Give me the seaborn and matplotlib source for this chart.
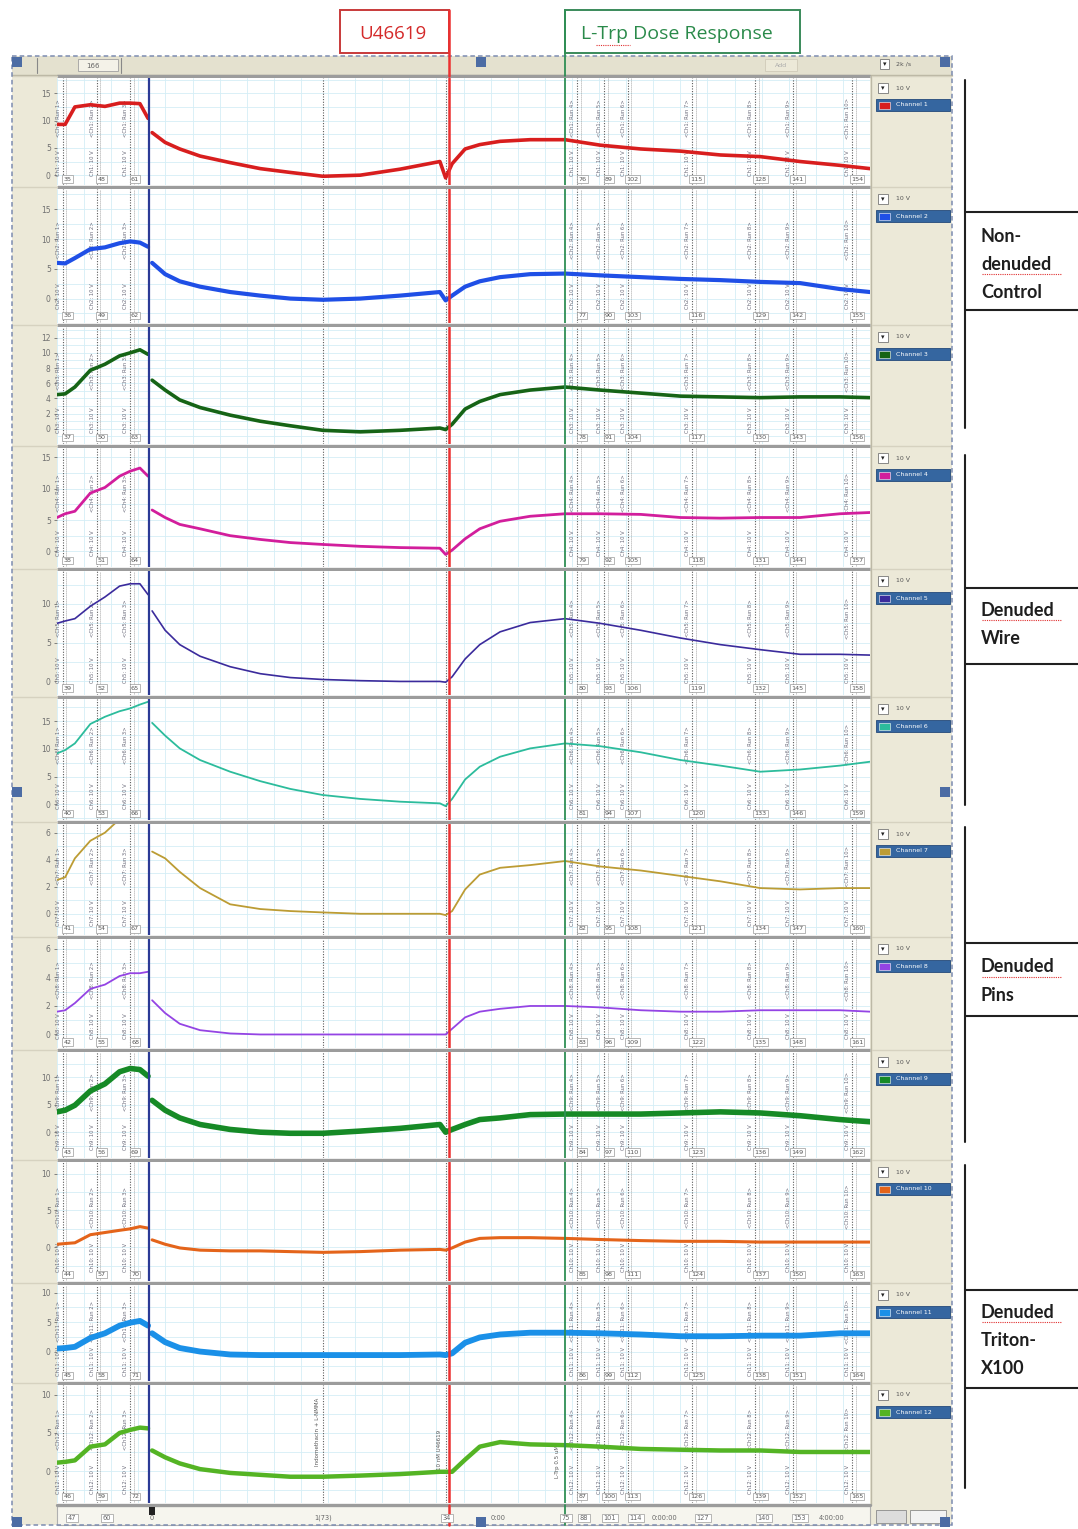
import numpy as np
import pandas as pd
import matplotlib
matplotlib.use("Agg")
import matplotlib.pyplot as plt
import seaborn as sns
from matplotlib.patches import Rectangle
from matplotlib.ticker import MultipleLocator
import matplotlib.transforms as mtrans

sns.set_theme(style="white")
plt.rcParams['font.family'] = ['DejaVu Sans']

# ---------------- data ----------------
CHANNELS = [f"Channel {i}" for i in range(1, 13)]
TIME_LEFT = [0.0, 1.0, 2.2, 4.1, 5.9, 7.7, 9.0, 10.2, 11.2]
TIME_RIGHT = [11.7, 13.3, 15.1, 17.6, 21.3, 25.0, 28.7, 32.7, 37.3, 42.2, 47.1, 47.8,
              48.6, 50.2, 52.0, 54.5, 58.2, 62.5, 66.8, 71.8, 76.7, 81.6, 86.5, 91.4,
              96.3, 100.0]

ch1_left = [9.3, 9.3, 12.5, 12.9, 12.6, 13.2, 13.2, 13.1, 10.4]
ch2_left = [6.0, 5.9, 6.8, 8.3, 8.6, 9.3, 9.6, 9.4, 8.7]
ch3_left = [4.5, 4.6, 5.5, 7.7, 8.5, 9.6, 10.0, 10.4, 9.8]
ch4_left = [5.4, 6.0, 6.4, 9.3, 10.2, 12.0, 12.8, 13.3, 12.0]
ch5_left = [7.5, 7.8, 8.1, 9.7, 10.9, 12.3, 12.6, 12.6, 11.2]
ch6_left = [9.2, 9.8, 11.0, 14.5, 15.8, 16.8, 17.3, 18.0, 18.5]
ch7_left = [2.5, 2.7, 4.1, 5.4, 6.0, 7.0, 7.3, 7.5, 7.3]
ch8_left = [1.6, 1.7, 2.2, 3.2, 3.5, 4.1, 4.3, 4.3, 4.4]
ch9_left = [3.7, 4.0, 4.9, 7.5, 8.8, 11.0, 11.6, 11.4, 10.2]
ch10_left = [0.4, 0.5, 0.6, 1.7, 2.0, 2.3, 2.5, 2.8, 2.6]
ch11_left = [0.5, 0.6, 0.8, 2.3, 3.1, 4.4, 4.9, 5.2, 4.4]
ch12_left = [1.1, 1.2, 1.4, 3.2, 3.5, 5.0, 5.4, 5.7, 5.6]

ch1_right = [7.8, 6.0, 4.8, 3.5, 2.3, 1.2, 0.5, -0.2, 0.0, 1.1, 2.5, -0.5, 2.1, 4.8, 5.6,
             6.2, 6.5, 6.5, 5.5, 4.8, 4.4, 3.7, 3.4, 2.5, 1.8, 1.2]
ch2_right = [6.0, 4.1, 2.9, 2.0, 1.1, 0.5, 0.0, -0.2, 0.0, 0.5, 1.1, -0.3, 0.5, 2.0, 2.9,
             3.6, 4.1, 4.2, 3.9, 3.6, 3.3, 3.1, 2.8, 2.6, 1.6, 1.1]
ch3_right = [6.4, 5.1, 3.8, 2.8, 1.8, 1.0, 0.4, -0.2, -0.4, -0.2, 0.1, -0.1, 0.6, 2.6, 3.6,
             4.5, 5.1, 5.5, 5.1, 4.7, 4.3, 4.2, 4.1, 4.2, 4.2, 4.1]
ch4_right = [6.6, 5.4, 4.3, 3.6, 2.5, 1.9, 1.4, 1.1, 0.8, 0.6, 0.5, -0.5, 0.2, 2.0, 3.6,
             4.8, 5.6, 6.0, 6.0, 5.9, 5.4, 5.3, 5.4, 5.4, 6.0, 6.2]
ch5_right = [9.1, 6.6, 4.75, 3.25, 1.9, 1.0, 0.5, 0.25, 0.1, 0.0, 0.0, -0.1, 0.6, 2.9, 4.75,
             6.4, 7.6, 8.1, 7.5, 6.6, 5.6, 4.75, 4.1, 3.5, 3.5, 3.4]
ch6_right = [14.7, 12.4, 10.1, 8.0, 5.9, 4.2, 2.8, 1.7, 1.0, 0.5, 0.2, -0.3, 1.0, 4.5, 6.8,
             8.6, 10.1, 11.0, 10.5, 9.4, 8.0, 7.0, 5.9, 6.3, 7.0, 7.7]
ch7_right = [4.6, 4.1, 3.1, 1.9, 0.7, 0.35, 0.2, 0.1, 0.0, 0.0, 0.0, -0.1, 0.2, 1.8, 2.9,
             3.4, 3.6, 3.9, 3.5, 3.2, 2.8, 2.4, 1.9, 1.8, 1.9, 1.9]
ch8_right = [2.4, 1.5, 0.75, 0.3, 0.07, 0.0, 0.0, 0.0, 0.0, 0.0, 0.0, 0.0, 0.4, 1.2, 1.6,
             1.8, 2.0, 2.0, 1.9, 1.7, 1.6, 1.6, 1.7, 1.7, 1.7, 1.6]
ch9_right = [5.8, 4.0, 2.6, 1.4, 0.5, 0.0, -0.2, -0.2, 0.2, 0.7, 1.4, 0.0, 0.5, 1.4, 2.3,
             2.6, 3.2, 3.3, 3.3, 3.3, 3.5, 3.7, 3.5, 3.0, 2.3, 1.9]
ch10_right = [1.0, 0.4, -0.1, -0.4, -0.5, -0.5, -0.6, -0.7, -0.6, -0.4, -0.3, -0.4, -0.1,
              0.7, 1.2, 1.3, 1.3, 1.2, 1.05, 0.9, 0.8, 0.8, 0.7, 0.7, 0.7, 0.7]
ch11_right = [3.1, 1.6, 0.6, 0.0, -0.5, -0.6, -0.6, -0.6, -0.6, -0.6, -0.5, -0.6, -0.3,
              1.5, 2.4, 2.9, 3.2, 3.2, 3.1, 2.9, 2.6, 2.6, 2.7, 2.7, 3.1, 3.1]
ch12_right = [2.7, 1.8, 1.0, 0.25, -0.25, -0.5, -0.75, -0.75, -0.6, -0.4, -0.1, -0.1, -0.1,
              1.5, 3.2, 3.8, 3.5, 3.4, 3.2, 2.9, 2.8, 2.7, 2.7, 2.5, 2.5, 2.5]

LEFT_VALUES = [ch1_left, ch2_left, ch3_left, ch4_left, ch5_left, ch6_left,
               ch7_left, ch8_left, ch9_left, ch10_left, ch11_left, ch12_left]
RIGHT_VALUES = [ch1_right, ch2_right, ch3_right, ch4_right, ch5_right, ch6_right,
                ch7_right, ch8_right, ch9_right, ch10_right, ch11_right, ch12_right]

Y_TICKS = [[0, 5, 10, 15], [0, 5, 10, 15], [0, 2, 4, 6, 8, 10, 12], [0, 5, 10, 15],
           [0, 5, 10], [0, 5, 10, 15], [0, 2, 4, 6], [0, 2, 4, 6],
           [0, 5, 10], [0, 5, 10], [0, 5, 10], [0, 5, 10]]

# event markers (time units)
MARK_LEFT = [0.7, 4.9, 9.0]
MARK_MID = [32.7, 47.8]
MARK_RIGHT = [64.0, 67.3, 70.2, 78.1, 85.9, 90.5, 97.8]
BLUE_X = 11.3
U46619_X = 48.2
LTRP_X = 62.5

GROUP_LABELS = [['Non-', 'denuded', 'Control'], ['Denuded', 'Wire'],
                ['Denuded', 'Pins'], ['Denuded', 'Triton-', 'X100']]

# ---------------- style / layout ----------------
COLORS = ['#d81e1e', '#1f4fe6', '#166416', '#d21e9c', '#3b2b9c', '#2cbc9c',
          '#bc9c34', '#9444e4', '#168a26', '#e4641a', '#1a90e8', '#54b424']
LWS = [2.6, 3.0, 2.6, 2.0, 1.2, 1.3, 1.3, 1.3, 4.0, 2.2, 4.2, 3.2]
Y_LIMS = [(-1.8, 17.8), (-4.1, 18.4), (-2.0, 13.4), (-2.5, 16.5), (-1.75, 14.25),
          (-2.8, 19.0), (-1.57, 6.64), (-0.95, 6.7), (-4.7, 14.6), (-4.6, 11.6),
          (-5.0, 11.3), (-4.2, 11.3)]
BOUNDS = [76, 187, 325, 446, 569, 697, 822, 937, 1050, 1160, 1283, 1383, 1505]

W, H = 1078, 1529
PL, PR = 57, 870
XMIN, XMAX = 0, 100
BEIGE = '#ece9d8'


def frac(x0, y0, w, h):
    return [x0 / W, 1 - (y0 + h) / H, w / W, h / H]


def xpx(t):
    return PL + (t - XMIN) / (XMAX - XMIN) * (PR - PL)


fig = plt.figure(figsize=(W / 100, H / 100), dpi=100)
fig.patch.set_facecolor('white')

bg = fig.add_axes([0, 0, 1, 1], zorder=0)
bg.set_xlim(0, W)
bg.set_ylim(H, 0)
bg.axis('off')

bg.add_patch(Rectangle((12, 56), 940, 1469, fc=BEIGE, ec='none'))
bg.add_patch(Rectangle((PL, 76), PR - PL, 1429, fc='white', ec='none'))
bg.add_patch(Rectangle((PL, 1505), PR - PL, 20, fc='#f6f5ee', ec='#b0b0b0', lw=0.8))
bg.add_patch(Rectangle((12, 56), 940, 19, fc='#e4e1cf', ec='none'))
bg.plot([12, 952], [75, 75], color='#b8b4a0', lw=1)
bg.add_patch(Rectangle((78, 59), 40, 12, fc='#f4f2e8', ec='#a0a0a0', lw=0.6))
bg.text(93, 65.5, '166', fontsize=5, color='#666', ha='center', va='center')
bg.plot([37, 37], [58, 73], color='#888', lw=0.8)
bg.plot([121, 121], [58, 73], color='#888', lw=0.8)
bg.add_patch(Rectangle((765, 59), 32, 12, fc='#ece9d8', ec='#cfcab8', lw=0.6))
bg.text(781, 65.5, 'Add', fontsize=4.5, color='#aaa', ha='center', va='center')
bg.add_patch(Rectangle((880, 59), 9, 10, fc='white', ec='#777', lw=0.6))
bg.text(884.5, 64, '▾', fontsize=5, color='#222', ha='center', va='center')
bg.text(896, 64, '2k /s', fontsize=4.5, color='#555', va='center')
bg.plot([871, 871], [76, 1505], color='#bdb9a6', lw=1)

for i in range(12):
    top, bot = BOUNDS[i], BOUNDS[i + 1]
    bg.plot([PL, PR], [top, top], color='#9c9c9c', lw=2.4, solid_capstyle='butt')
    bg.plot([12, PL], [top, top], color='#d6d2c0', lw=1)
    bg.plot([872, 952], [top, top], color='#d6d2c0', lw=1)
    bg.add_patch(Rectangle((878, top + 7), 10, 10, fc='white', ec='#777', lw=0.6))
    bg.text(883, top + 12, '▾', fontsize=5, color='#222', ha='center', va='center')
    bg.text(896, top + 12, '10 V', fontsize=4.5, color='#555', va='center')
    bg.add_patch(Rectangle((876, top + 23), 74, 12, fc='#3566a0', ec='#24497a', lw=0.6))
    bg.add_patch(Rectangle((879, top + 25.5), 11, 7, fc=COLORS[i], ec='white', lw=0.4))
    bg.text(896, top + 29, CHANNELS[i], fontsize=4.5, color='white', va='center')
bg.plot([PL, PR], [1505, 1505], color='#9c9c9c', lw=2.4)

# ---------------- panels ----------------
axes = []
for i in range(12):
    top, bot = BOUNDS[i], BOUNDS[i + 1]
    ax = fig.add_axes(frac(PL, top + 2, PR - PL, bot - top - 4), zorder=1)
    ax.set_facecolor('white')
    step = Y_TICKS[i][1] - Y_TICKS[i][0]
    ax.xaxis.set_minor_locator(MultipleLocator(100 / 30))
    ax.yaxis.set_minor_locator(MultipleLocator(step / 2))
    ax.grid(True, which='both', color='#d4eef6', lw=0.6)
    ax.tick_params(which='minor', length=0)
    ax.set_axisbelow(True)

    df_l = pd.DataFrame({'time': TIME_LEFT, 'value': LEFT_VALUES[i]})
    df_r = pd.DataFrame({'time': TIME_RIGHT, 'value': RIGHT_VALUES[i]})
    for df in (df_l, df_r):
        sns.lineplot(data=df, x='time', y='value', ax=ax, color=COLORS[i], lw=LWS[i],
                     estimator=None, sort=False, zorder=4,
                     solid_joinstyle='round', solid_capstyle='round')

    ax.set_xlim(XMIN, XMAX)
    ax.set_ylim(*Y_LIMS[i])
    ax.set_xlabel('')
    ax.set_ylabel('')
    ax.set_xticks([])
    ax.set_yticks(Y_TICKS[i])
    ax.set_yticklabels([str(v) for v in Y_TICKS[i]])
    ax.tick_params(axis='y', which='major', labelsize=5.5, colors='#707070',
                   length=2.5, width=0.6, pad=2, left=True)
    for s in ax.spines.values():
        s.set_visible(False)

    k = i + 1
    tr = mtrans.blended_transform_factory(ax.transData, ax.transAxes)
    for mx in MARK_LEFT + MARK_MID + MARK_RIGHT:
        ax.axvline(mx, color='#5a5a5a', lw=0.8, ls=(0, (1, 1.4)), zorder=2)
    for j, mx in enumerate(MARK_LEFT + MARK_RIGHT):
        ax.axvline(mx + 0.45, color='#8a8a8a', lw=0.6, ls=(0, (1, 1.4)), zorder=2)
        ax.text(mx - 0.55, 0.62, f'<Ch{k}: Run {j + 1}>', rotation=90, fontsize=3.8,
                color='#6a6a7a', ha='center', va='center', transform=tr, zorder=3)
        ax.text(mx - 0.55, 0.2, f'Ch{k}: 10 V', rotation=90, fontsize=3.8,
                color='#6a6a7a', ha='center', va='center', transform=tr, zorder=3)
    nums = [34 + k, 47 + k, 60 + k] + [75 + k + 13 * n for n in range(7)]
    for mx, n in zip(MARK_LEFT + MARK_RIGHT, nums):
        ax.text(mx + 0.6, 0.055, str(n), fontsize=4.6, color='#555', ha='center',
                va='center', transform=tr, zorder=5,
                bbox=dict(boxstyle='square,pad=0.2', fc='white', ec='#9a9a9a', lw=0.5))

    ax.axvline(BLUE_X, color='#2b3a96', lw=1.6, zorder=5)
    ax.axvline(U46619_X, color='#ec3030', lw=1.8, zorder=6)
    ax.axvline(LTRP_X, color='#2f8f55', lw=1.3, zorder=6)
    axes.append(ax)

tr12 = mtrans.blended_transform_factory(axes[-1].transData, axes[-1].transAxes)
axes[-1].text(MARK_MID[0] - 0.6, 0.6, 'Indomethacin + L-NMMA', rotation=90, fontsize=4,
              color='#555', ha='center', va='center', transform=tr12)
axes[-1].text(MARK_MID[1] - 0.8, 0.45, '10 nM U46619', rotation=90, fontsize=4,
              color='#555', ha='center', va='center', transform=tr12)
axes[-1].text(LTRP_X - 0.9, 0.35, 'L-Trp 0.5 uM', rotation=90, fontsize=4,
              color='#555', ha='center', va='center', transform=tr12)

# ---------------- foreground overlay ----------------
fg = fig.add_axes([0, 0, 1, 1], zorder=3)
fg.set_xlim(0, W)
fg.set_ylim(H, 0)
fg.axis('off')
fg.patch.set_alpha(0)

xr, xg = xpx(U46619_X), xpx(LTRP_X)
fg.plot([xr, xr], [10, 76], color='#ec3030', lw=1.8)
fg.plot([xr, xr], [1505, 1525], color='#ec3030', lw=1.8)
fg.plot([xg, xg], [10, 76], color='#2f8f55', lw=1.3)
fg.plot([xg, xg], [1505, 1525], color='#2f8f55', lw=1.3)

fg.add_patch(Rectangle((340, 10), xr - 340, 43, fc='white', ec='#c83a3a', lw=1.4))
fg.text((340 + xr) / 2 - 2, 34, 'U46619', fontsize=13.5, color='#d42a2a', ha='center',
        va='center', family=['Open Sans', 'DejaVu Sans'])
fg.add_patch(Rectangle((xg, 10), 800 - xg, 43, fc='white', ec='#3a8a5a', lw=1.4))
fg.text(xg + 16, 34, 'L-Trp Dose Response', fontsize=14, color='#2a8a4a', ha='left',
        va='center', family=['Open Sans', 'DejaVu Sans'])
fg.plot([596, 630], [45, 45], color='#e03030', lw=0.8, ls=(0, (1, 1)))

bottom_labels = [(72, '47', True), (107, '60', True), (152, '0', False),
                 (323, '1(73)', False), (447, '34', True), (498, '0:00', False),
                 (566, '75', True), (584, '88', True), (610, '101', True),
                 (636, '114', True), (664, '0:00:00', False), (703, '127', True),
                 (764, '140', True), (800, '153', True), (832, '4:00:00', False)]
for x, s, boxed in bottom_labels:
    kw = dict(bbox=dict(boxstyle='square,pad=0.2', fc='white', ec='#9a9a9a', lw=0.5)) if boxed else {}
    fg.text(x, 1518, s, fontsize=4.8, color='#666', ha='center', va='center', **kw)
fg.add_patch(Rectangle((149, 1507), 6, 8, fc='#222', ec='none'))
fg.add_patch(Rectangle((876, 1510), 30, 13, fc='#dcdcdc', ec='#8a8a8a', lw=0.6))
fg.add_patch(Rectangle((910, 1510), 36, 13, fc='#f2f2f2', ec='#8a8a8a', lw=0.6))

fg.add_patch(Rectangle((12, 56), 940, 1469, fc='none', ec='#7c8cb0', lw=1.1, ls=(0, (3, 2))))
for hx, hy in [(17, 62), (481, 62), (945, 62), (17, 792), (945, 792),
               (17, 1522), (481, 1522), (945, 1522)]:
    fg.add_patch(Rectangle((hx - 5, hy - 5), 10, 10, fc='#4c6ca4', ec='none'))

groups = [(80, 428, 212, 310, 236), (455, 805, 588, 664, 610),
          (827, 1142, 943, 1016, 967), (1165, 1488, 1290, 1388, 1312)]
for (vy0, vy1, h0, h1, ty), lines in zip(groups, GROUP_LABELS):
    fg.plot([965, 965], [vy0, vy1], color='#202020', lw=1.5)
    fg.plot([965, 1078], [h0, h0], color='#202020', lw=1.5)
    fg.plot([965, 1078], [h1, h1], color='#202020', lw=1.5)
    for n, s in enumerate(lines):
        fg.text(981, ty + n * 28.5, s, fontsize=13, color='#1e1e1e', ha='left',
                va='center', family=['Lato', 'DejaVu Sans'], fontweight='bold')
        if s.lower() == 'denuded':
            fg.plot([982, 1062], [ty + n * 28.5 + 9.5, ty + n * 28.5 + 9.5],
                    color='#e03030', lw=0.8, ls=(0, (1, 1)))

fig.savefig('out.png', dpi=100)
